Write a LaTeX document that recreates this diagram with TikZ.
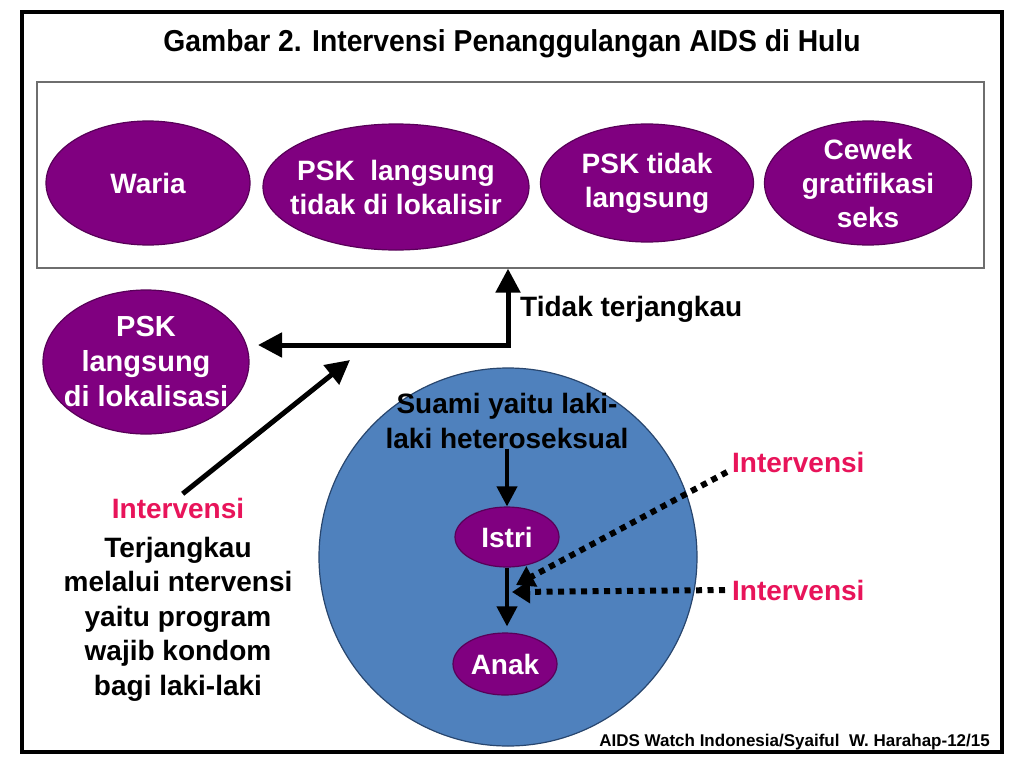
\documentclass[tikz,border=0pt]{standalone}
\usepackage{fontspec}
\setmainfont{Liberation Sans}
\usetikzlibrary{arrows.meta,shapes.geometric,calc}
\definecolor{purp}{RGB}{128,0,128}
\definecolor{purpline}{RGB}{88,0,88}
\definecolor{blu}{RGB}{79,129,189}
\definecolor{bluline}{RGB}{40,70,110}
\definecolor{pinkc}{RGB}{232,20,90}
\definecolor{boxgray}{RGB}{110,110,110}
\begin{document}
\begin{tikzpicture}[x=1pt,y=-1pt,
  oval/.style={ellipse, fill=purp, draw=purpline, line width=1.2pt, inner sep=0pt},
  ovaltext/.style={text=white, font=\bfseries\fontsize{28}{34}\selectfont, align=center, inner sep=0pt},
  blk/.style={text=black, font=\bfseries\fontsize{28}{34.5}\selectfont, align=center, inner sep=0pt},
  pinktext/.style={text=pinkc, font=\bfseries\fontsize{28}{34}\selectfont, inner sep=0pt},
  bigarrow/.style={line width=5pt, -{Triangle[length=24pt,width=24pt]}},
  midarrow/.style={line width=4pt, -{Triangle[length=20pt,width=20pt]}},
  dotline/.style={line width=6pt, dash pattern=on 6pt off 5.5pt, shorten >=15pt},
  dottip/.style={line width=6pt, -{Triangle[length=18pt,width=22pt]}}
]
\useasboundingbox (0,0) rectangle (1024,768);
\fill[white] (0,0) rectangle (1024,768);
\draw[line width=4pt] (22,12) rectangle (1002,752);
\node[draw=boxgray, line width=1.2pt, minimum width=947pt, minimum height=186pt, inner sep=0pt] (box) at (510.5,175) {};
\node[blk, anchor=base] (title) at (512,52) {\scalebox{1.01}[1.08]{Gambar 2. Intervensi Penanggulangan AIDS di Hulu}};
% top row
\node[oval, minimum width=204pt, minimum height=124pt] (waria) at (148,183) {};
\node[ovaltext] (wariaT) at (waria) {Waria};
\node[oval, minimum width=266pt, minimum height=126pt] (psk1) at (396,187) {};
\node[ovaltext] (psk1T) at (psk1) {PSK\ \ langsung\\tidak di lokalisir};
\node[oval, minimum width=213pt, minimum height=118pt] (psk2) at (647,183) {};
\node[ovaltext] (psk2T) at (psk2) {PSK tidak\\langsung};
\node[oval, minimum width=207pt, minimum height=124pt] (cewek) at (868,183) {};
\node[ovaltext] (cewekT) at (cewek) {Cewek\\gratifikasi\\seks};
% left ellipse
\node[oval, minimum width=206pt, minimum height=144pt] (lok) at (146,362) {};
\node[ovaltext, font=\bfseries\fontsize{29}{35}\selectfont] (lokT) at (lok) {PSK\\langsung\\di lokalisasi};
% family circle
\node[circle, fill=blu, draw=bluline, line width=1.2pt, minimum size=378pt, inner sep=0pt] (fam) at (508,557) {};
\node[blk] (suami) at (507,421) {Suami yaitu laki-\\laki heteroseksual};
\node[oval, minimum width=104pt, minimum height=60pt] (istri) at (507,537) {};
\node[ovaltext] (istriT) at (istri) {Istri};
\node[oval, minimum width=104pt, minimum height=62pt] (anak) at (505,664) {};
\node[ovaltext] (anakT) at (anak) {Anak};
\draw[midarrow] (suami.south) -- (istri.north);
\draw[midarrow, shorten >=6pt] (istri.south) -- (istri.south |- anak.north);
% texts
\node[blk, anchor=west] (tidak) at (520,309) {Tidak terjangkau};
\node[pinktext] (intL) at (178,508) {Intervensi};
\node[blk] (reach) at (178,619) {Terjangkau\\melalui ntervensi\\yaitu program\\wajib kondom\\bagi laki-laki};
\node[pinktext, anchor=west] (intR1) at (732,462) {Intervensi};
\node[pinktext, anchor=west] (intR2) at (732,590) {Intervensi};
\node[font=\bfseries\fontsize{17}{20}\selectfont, anchor=base east, inner sep=0pt] (credit) at (990,746) {AIDS Watch Indonesia/Syaiful\ \ W. Harahap-12/15};
% arrows
\coordinate (corner) at (508,345);
\coordinate (lokTip) at (258,345);
\coordinate (diagTip) at (350,360);
\coordinate (hitA) at (516,585);
\coordinate (hitB) at (512,592);
\coordinate (startA) at ([xshift=-5pt,yshift=-10pt]intR1.west);
\coordinate (startB) at ([xshift=-7pt]intR2.west);
\draw[line width=5pt, line join=miter, {Triangle[length=24pt,width=24pt]}-{Triangle[length=24pt,width=24pt]}] (lokTip) -- (corner) -- (corner |- box.south);
\draw[bigarrow, shorten <=6pt] (intL.north) -- (diagTip);
\draw[dotline] (startA) -- (hitA);
\draw[dottip] ($(hitA)!18pt!(startA)$) -- (hitA);
\draw[dotline] (startB) -- (hitB);
\draw[dottip] ($(hitB)!18pt!(startB)$) -- (hitB);
\end{tikzpicture}
\end{document}
